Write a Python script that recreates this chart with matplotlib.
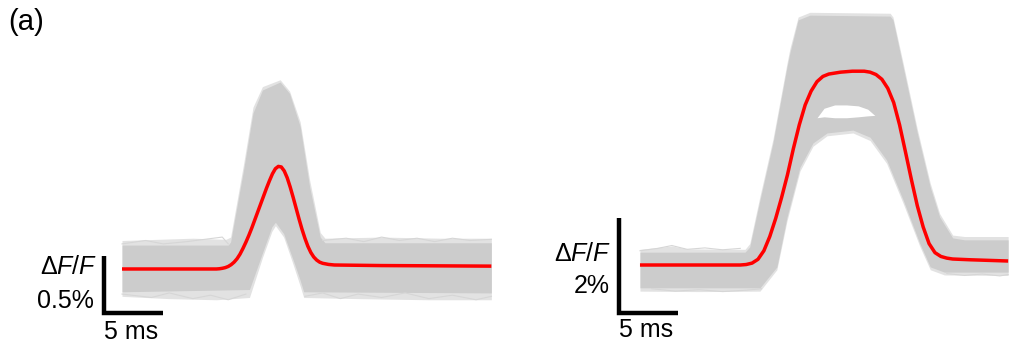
import numpy as np
import matplotlib
matplotlib.use("Agg")
import matplotlib.pyplot as plt

plt.rcParams['font.family'] = ['Liberation Sans', 'DejaVu Sans']
plt.rcParams['mathtext.fontset'] = 'custom'
plt.rcParams['mathtext.rm'] = 'Liberation Sans'
plt.rcParams['mathtext.it'] = 'Liberation Sans:italic'

# ---- panel 1 (small spike), time in ms, dF/F in % ----
t1_mean = [0, 8.0, 8.25, 8.5, 8.75, 9.0, 9.25, 9.5, 9.75, 10.0, 10.25, 10.5, 10.75,
           11.0, 11.25, 11.5, 11.75, 12.0, 12.25, 12.5, 12.75, 13.0, 13.25, 13.5,
           13.75, 14.0, 14.25, 14.5, 14.75, 15.0, 15.25, 15.5, 15.75, 16.0, 16.25,
           16.5, 16.75, 17.0, 17.5, 18.0, 22, 26, 31.3]
v1_mean = [0, 0.0, 0.002, 0.006, 0.012, 0.022, 0.038, 0.06, 0.09, 0.13, 0.18, 0.235,
           0.295, 0.36, 0.43, 0.50, 0.57, 0.64, 0.71, 0.775, 0.835, 0.88, 0.90, 0.895,
           0.86, 0.80, 0.72, 0.63, 0.535, 0.44, 0.35, 0.27, 0.20, 0.145, 0.105,
           0.078, 0.06, 0.05, 0.04, 0.035, 0.03, 0.028, 0.025]

t1_up = [0, 9.0, 9.2, 10.3, 11.1, 11.9, 13.4, 14.2, 15.1, 15.9, 16.8, 17.2, 31.3]
v1_up = [0.21, 0.21, 0.237, 0.868, 1.368, 1.57, 1.64, 1.54, 1.25, 0.72, 0.28, 0.23, 0.23]
t1_lo = [0, 10.8, 11.9, 12.7, 13.0, 13.7, 14.5, 15.1, 15.4, 31.3]
v1_lo = [-0.20, -0.18, 0.14, 0.37, 0.41, 0.31, 0.08, -0.10, -0.20, -0.21]

t1_oup = [0, 3, 6, 8.8, 9.2, 10.3, 11.1, 11.9, 13.4, 14.2, 15.1, 15.9, 16.8, 17.2, 22, 27, 31.3]
v1_oup = [0.25, 0.26, 0.27, 0.26, 0.28, 0.92, 1.42, 1.60, 1.66, 1.56, 1.29, 0.78, 0.32, 0.27,
          0.28, 0.27, 0.27]
t1_olo = [0, 4, 8, 10.8, 11.9, 12.7, 13.0, 13.7, 14.5, 15.1, 15.4, 20, 26, 31.3]
v1_olo = [-0.24, -0.26, -0.27, -0.25, 0.10, 0.33, 0.38, 0.28, 0.04, -0.15, -0.25, -0.26,
          -0.27, -0.27]

# a few stray single traces poking out of the bundle
t1_stray_a = [0, 2, 3.5, 5.5, 7, 8.5, 9.0]
v1_stray_a = [0.22, 0.25, 0.22, 0.24, 0.26, 0.28, 0.22]
t1_stray_b = [17, 19, 20.5, 22, 23.5, 25, 26.5, 28, 29.5, 31.3]
v1_stray_b = [0.25, 0.27, 0.24, 0.28, 0.25, 0.27, 0.24, 0.27, 0.25, 0.26]
t1_stray_c = [0, 2.5, 4, 6, 7.5, 9, 10.5]
v1_stray_c = [-0.22, -0.25, -0.21, -0.26, -0.23, -0.27, -0.22]
t1_stray_d = [15.5, 17, 18.5, 20, 22, 24, 26, 28, 30, 31.3]
v1_stray_d = [-0.24, -0.21, -0.26, -0.22, -0.25, -0.21, -0.26, -0.23, -0.27, -0.24]

# ---- panel 2 (broad plateau) ----
t2_mean = [0, 8.5, 9.0, 9.5, 10.0, 10.5, 11.0, 11.5, 12.0, 12.5, 13.0, 13.5, 14.0,
           14.5, 15.0, 15.5, 16.0, 17.0, 18.0, 19.0, 19.5, 20.0, 20.5, 21.0, 21.5,
           22.0, 22.5, 23.0, 23.5, 24.0, 24.5, 25.0, 25.5, 26.0, 26.5, 28, 31.2]
v2_mean = [0, 0.0, 0.01, 0.04, 0.12, 0.30, 0.60, 0.98, 1.42, 1.90, 2.45, 2.95, 3.37,
           3.66, 3.86, 3.97, 4.02, 4.06, 4.08, 4.08, 4.06, 4.01, 3.91, 3.72, 3.42,
           2.95, 2.38, 1.80, 1.25, 0.80, 0.45, 0.26, 0.18, 0.145, 0.126, 0.11, 0.084]

t2_up = [0, 8.9, 9.3, 10.17, 11.27, 12.46, 12.7, 13.4, 14.4, 21.2, 21.44, 22.3, 23.5,
         24.6, 25.4, 26.5, 27.5, 31.2]
v2_up = [0.27, 0.27, 0.38, 1.37, 2.57, 4.17, 4.46, 5.16, 5.26, 5.24, 5.16, 4.17, 2.78,
         1.64, 1.01, 0.57, 0.53, 0.53]
t2_lo = [0, 10.17, 11.6, 12.46, 13.56, 14.66, 15.85, 18.05, 19.5, 20.9, 22.3, 23.7,
         24.6, 25.8, 31.2]
v2_lo = [-0.48, -0.48, -0.04, 1.01, 2.06, 2.57, 2.78, 2.84, 2.69, 2.21, 1.37, 0.46,
         -0.04, -0.15, -0.15]

t2_oup = [0, 2.7, 4, 8.9, 9.3, 10.17, 11.27, 12.46, 12.7, 13.4, 14.4, 21.2, 21.44,
          22.3, 23.5, 24.6, 25.4, 26.5, 27.5, 31.2]
v2_oup = [0.33, 0.40, 0.34, 0.33, 0.45, 1.45, 2.65, 4.25, 4.55, 5.22, 5.32, 5.30, 5.22,
          4.25, 2.86, 1.72, 1.08, 0.63, 0.60, 0.60]
t2_olo = [0, 5, 10.17, 11.6, 12.46, 13.56, 14.66, 15.85, 18.05, 19.5, 20.9, 22.3,
          23.7, 24.6, 25.8, 31.2]
v2_olo = [-0.55, -0.56, -0.55, -0.10, 0.93, 1.98, 2.50, 2.72, 2.78, 2.62, 2.14, 1.30,
          0.40, -0.10, -0.21, -0.22]

t2_stray_a = [0, 1.5, 2.7, 4, 5.5, 7, 8.5]
v2_stray_a = [0.30, 0.35, 0.41, 0.33, 0.36, 0.32, 0.35]
t2_stray_b = [1, 3, 5, 7, 9, 10.3]
v2_stray_b = [-0.50, -0.55, -0.52, -0.56, -0.53, -0.50]
t2_stray_c = [26, 27.5, 29, 30.5, 31.2]
v2_stray_c = [-0.18, -0.22, -0.19, -0.23, -0.20]

# gap between the two groups of traces on the plateau
t2_gap = [15.0, 15.6, 16.5, 17.5, 18.5, 19.3, 19.9]
v2_gap_top = [3.10, 3.30, 3.37, 3.37, 3.35, 3.28, 3.15]
v2_gap_bot = [3.10, 3.12, 3.10, 3.10, 3.12, 3.14, 3.15]

GRAY = '#cccccc'
LIGHT = '#e2e2e2'
FS = 18

fig = plt.figure(figsize=(10.11, 3.48), dpi=100)


def band(ax, t_up, v_up, t_lo, v_lo, color):
    # put both edges on one shared time base (the union of their own samples)
    tt = np.array(sorted(set(t_up) | set(t_lo)))
    ax.fill_between(tt, np.interp(tt, t_up, v_up), np.interp(tt, t_lo, v_lo),
                    color=color, lw=0)


def scalebar(ax, x0, y0, dx, dy, ylabel, xlabel, yl_pos, yv_pos, xl_pos):
    ax.plot([x0, x0, x0 + dx], [y0 + dy, y0, y0], color='black', lw=3.2,
            solid_joinstyle='miter', solid_capstyle='butt')
    ax.text(*yl_pos, r'$\Delta F/F$', ha='right', va='center', fontsize=FS)
    ax.text(*yv_pos, ylabel, ha='right', va='center', fontsize=FS)
    ax.text(*xl_pos, xlabel, ha='left', va='center', fontsize=FS)


# panel 1
ax1 = fig.add_axes([0.08566, 0.0305, 0.42018, 0.8517])
ax1.set_xlim(-3, 33)
ax1.set_ylim(-0.6, 2.0)
ax1.axis('off')
band(ax1, t1_oup, v1_oup, t1_olo, v1_olo, LIGHT)
for t, v in [(t1_stray_a, v1_stray_a), (t1_stray_b, v1_stray_b),
             (t1_stray_c, v1_stray_c), (t1_stray_d, v1_stray_d)]:
    ax1.plot(t, v, color='#d6d6d6', lw=0.8)
band(ax1, t1_up, v1_up, t1_lo, v1_lo, GRAY)
ax1.plot(t1_mean, v1_mean, color='red', lw=2.5, solid_capstyle='butt')
scalebar(ax1, -1.525, -0.386, 5, 0.5, '0.5%', '5 ms',
         (-2.1, 0.018), (-2.35, -0.28), (-1.5, -0.55))

# panel 2
ax2 = fig.add_axes([0.5980, 0.03376, 0.42018, 1.0237])
ax2.set_xlim(-3, 33)
ax2.set_ylim(-1.5, 6.0)
ax2.axis('off')
band(ax2, t2_oup, v2_oup, t2_olo, v2_olo, LIGHT)
for t, v in [(t2_stray_a, v2_stray_a), (t2_stray_b, v2_stray_b),
             (t2_stray_c, v2_stray_c)]:
    ax2.plot(t, v, color='#d6d6d6', lw=0.8)
band(ax2, t2_up, v2_up, t2_lo, v2_lo, GRAY)
ax2.fill_between(t2_gap, v2_gap_top, v2_gap_bot, color='white', lw=0)
ax2.plot(t2_mean, v2_mean, color='red', lw=2.5, solid_capstyle='butt')
scalebar(ax2, -1.78, -1.01, 5, 2, '2%', '5 ms',
         (-2.45, 0.23), (-2.6, -0.44), (-1.75, -1.37))

fig.text(8 / 1011, 1 - 22 / 348, '(a)', ha='left', va='center', fontsize=21)

fig.savefig('out.png', dpi=100)
